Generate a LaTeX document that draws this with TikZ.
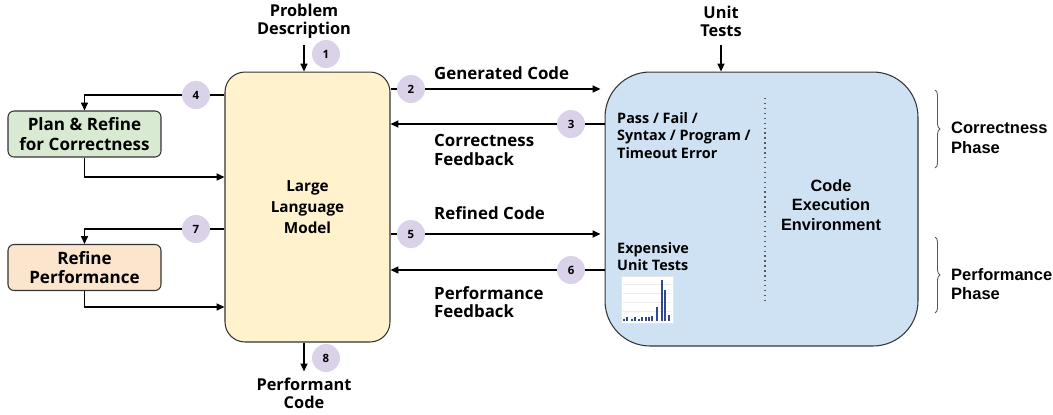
\documentclass[tikz,border=0pt]{standalone}
\usepackage{fontspec}
\setmainfont{Open Sans}
\newfontfamily\arialfont{Liberation Sans}
\usepackage{tikz}
\usetikzlibrary{arrows.meta,positioning,calc,decorations.pathreplacing}
\definecolor{llmYellow}{HTML}{FFF2CC}
\definecolor{envBlue}{HTML}{CFE2F3}
\definecolor{planGreen}{HTML}{D9EAD3}
\definecolor{perfOrange}{HTML}{FCE5CD}
\definecolor{stepPurple}{HTML}{D9D2E9}
\definecolor{barBlue}{HTML}{2E4A8C}
\definecolor{edgeGray}{HTML}{333333}

\begin{document}
\begin{tikzpicture}[
        x=0.02cm, y=-0.02cm,
        llmbox/.style={rectangle, draw=edgeGray, fill=llmYellow, rounded corners=0.4cm, minimum width=3.3cm, minimum height=5.4cm, align=center, font=\fontsize{8.7}{12}\selectfont\bfseries, line width=0.6pt},
        envbox/.style={rectangle, draw=edgeGray, fill=envBlue, rounded corners=0.9cm, minimum width=6.26cm, minimum height=5.48cm, line width=0.6pt},
        refinebox/.style={rectangle, draw=edgeGray, rounded corners=0.12cm, minimum width=3.06cm, minimum height=0.92cm, align=center, inner sep=1pt, font=\fontsize{9.7}{11}\selectfont\bfseries, line width=0.6pt},
        stepmark/.style={circle, fill=stepPurple, minimum size=0.56cm, inner sep=0pt, font=\fontsize{6.5}{7}\selectfont\bfseries},
        label/.style={align=center, font=\fontsize{9.3}{10.3}\selectfont\bfseries},
        flowlabel/.style={align=left, anchor=west, font=\fontsize{9.6}{10.5}\selectfont\bfseries},
        envtext/.style={align=left, anchor=north west, font=\fontsize{8.2}{10}\selectfont\bfseries},
        phase/.style={align=left, anchor=west, font=\arialfont\fontsize{9.4}{11.2}\selectfont\bfseries},
        arrow/.style={-{Triangle[length=4.5pt,width=4pt]}, thick},
        link/.style={thick},
        brace/.style={decorate, decoration={brace, amplitude=0.1cm}, gray!70!black, line width=0.5pt}
    ]
        \useasboundingbox (0,0) rectangle (1053,414);

        % Main boxes
        \node[llmbox] (llm) at (307.5,207) {Large\\Language\\Model};
        \node[envbox] (env) at (761.5,209) {};
        \node[refinebox, fill=planGreen] (plan) at (84.5,134) {Plan \& Refine\\for Correctness};
        \node[refinebox, fill=perfOrange] (refine) at (84.5,267.5) {Refine\\Performance};

        % Inputs and outputs
        \node[label] (problem) at (304,21) {Problem\\Description};
        \node[label] (tests) at (721,21) {Unit\\Tests};
        \node[label] (performant) at (304,393) {Performant\\Code};

        % Step markers
        \node[stepmark] (s1) at (326,54) {1};
        \node[stepmark] (s2) at (411,89) {2};
        \node[stepmark] (s3) at (571,124) {3};
        \node[stepmark] (s4) at (196,95) {4};
        \node[stepmark] (s5) at (411,234) {5};
        \node[stepmark] (s6) at (571,270) {6};
        \node[stepmark] (s7) at (196,229) {7};
        \node[stepmark] (s8) at (326,358) {8};

        % Flow labels
        \node[flowlabel] (gen) at (428,73) {Generated Code};
        \node[flowlabel] (corrfb) at (428,150) {Correctness\\Feedback};
        \node[flowlabel] (refined) at (428,213) {Refined Code};
        \node[flowlabel] (perffb) at (428,302) {Performance\\Feedback};

        % Inside the execution environment
        \node[envtext] (verdict) at (611,106) {Pass / Fail /\\Syntax / Program /\\Timeout Error};
        \node[envtext] (expensive) at (611,236) {Expensive\\Unit Tests};
        \node[align=center, font=\arialfont\fontsize{9.3}{11.2}\selectfont\bfseries] (envname) at (831,205) {Code\\Execution\\Environment};
        \draw[dotted, thick, gray!70!black] (765,98) -- (765,300);

        % Runtime chart
        \node[rectangle, fill=white, draw=gray!20, minimum width=1.04cm, minimum height=0.94cm, inner sep=0pt] (chart) at (647,299.5) {};
        \foreach \gy in {284,293,302,311}
            \draw[gray!15, line width=0.3pt] (623,\gy) -- (671,\gy);
        \foreach \bx/\bh in {624/2.3,627.3/3.7,631.7/2.3,635/3.7,639/2.3,642.3/3.7,645.7/3.7,649/4.3,652.3/5.3,657.3/14.3,661.7/41,665.3/31,669/5.7}
            \fill[barBlue] (\bx-1,321) rectangle (\bx+1,321-\bh);

        % Phases
        \draw[brace] (935,90) -- (935,168);
        \draw[brace] (935,237) -- (935,313);
        \node[phase] (corrphase) at (945,138) {Correctness\\Phase};
        \node[phase] (perfphase) at (945,284) {Performance\\Phase};

        % Input / output arrows
        \draw[arrow] (problem.south |- 0,45) -- (llm.north -| problem);
        \draw[arrow] (tests.south |- 0,45) -- (env.north -| tests);
        \draw[arrow] (llm.south -| performant) -- (performant);

        % LLM <-> execution environment
        \draw[link] (llm.east |- s2) -- (s2);
        \draw[arrow, shorten >=0.08cm] (s2) -- (s2 -| env.west);
        \draw[link] (env.west |- s3) -- (s3);
        \draw[arrow] (s3) -- (s3 -| llm.east);
        \draw[link] (llm.east |- s5) -- (s5);
        \draw[arrow, shorten >=0.08cm] (s5) -- (s5 -| env.west);
        \draw[link] (env.west |- s6) -- (s6);
        \draw[arrow] (s6) -- (s6 -| llm.east);

        % Refinement loops
        \draw[link] (llm.west |- s4) -- (s4);
        \draw[arrow] (s4) -| (plan);
        \draw[arrow] (plan.south) |- ([yshift=0.6cm]llm.west);
        \draw[link] (llm.west |- s7) -- (s7);
        \draw[arrow] (s7) -| (refine);
        \draw[arrow] (refine.south) |- ([yshift=-2cm]llm.west);
    \end{tikzpicture}
\end{document}
